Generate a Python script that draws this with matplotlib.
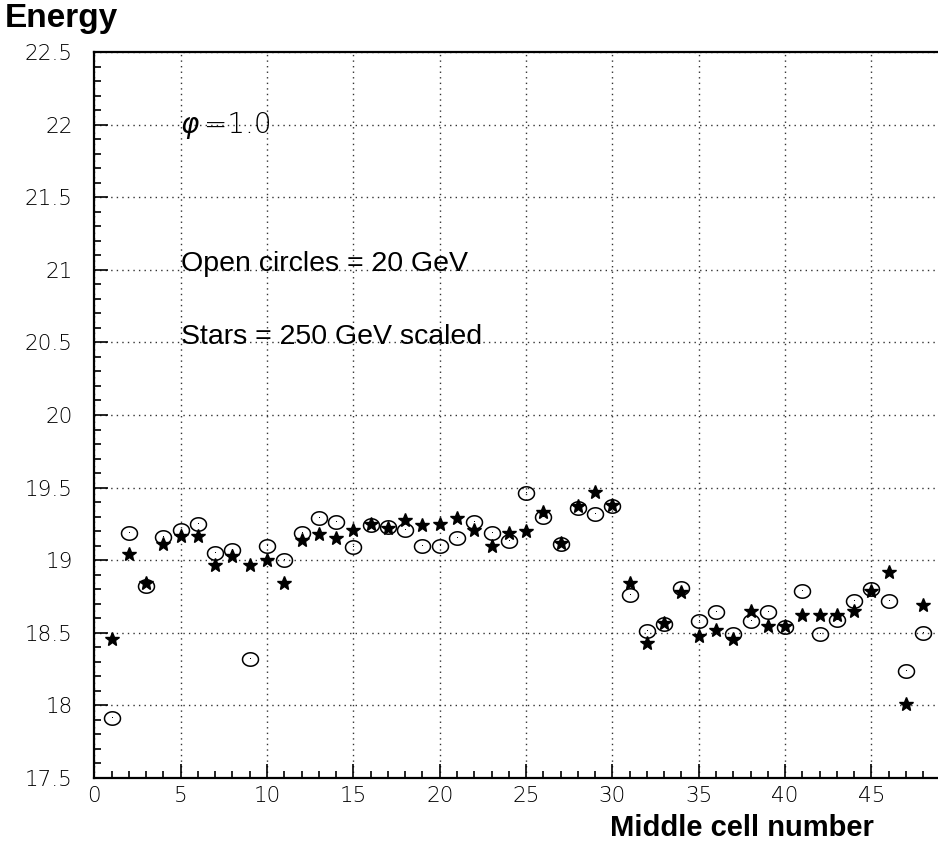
import numpy as np
import matplotlib
matplotlib.use('Agg')
from matplotlib import pyplot as plt
from matplotlib.path import Path
from matplotlib.ticker import MultipleLocator

# cell numbers and energies
cells = np.arange(1, 49)
circles = [17.91, 19.19, 18.82, 19.16, 19.21, 19.25, 19.05, 19.07, 18.32, 19.10,
           19.00, 19.19, 19.29, 19.26, 19.09, 19.24, 19.23, 19.21, 19.10, 19.10,
           19.15, 19.26, 19.19, 19.13, 19.46, 19.30, 19.11, 19.36, 19.32, 19.37,
           18.76, 18.51, 18.56, 18.81, 18.58, 18.64, 18.49, 18.58, 18.64, 18.54,
           18.79, 18.49, 18.59, 18.72, 18.80, 18.72, 18.24, 18.50]
stars = [18.46, 19.04, 18.84, 19.11, 19.17, 19.17, 18.97, 19.03, 18.97, 19.00,
         18.84, 19.14, 19.18, 19.15, 19.21, 19.25, 19.22, 19.28, 19.24, 19.25,
         19.29, 19.21, 19.10, 19.19, 19.20, 19.33, 19.12, 19.37, 19.47, 19.38,
         18.84, 18.43, 18.57, 18.78, 18.48, 18.52, 18.46, 18.65, 18.55, 18.55,
         18.62, 18.62, 18.62, 18.65, 18.79, 18.92, 18.01, 18.69]
yticks = np.arange(17.5, 22.6, 0.5)

W, H = 938, 842
fig = plt.figure(figsize=(W / 100, H / 100), dpi=100)
# the reference is cropped on the right, so the axes run past the figure edge
ax = fig.add_axes([94.3 / W, 64 / H, 863.5 / W, 726 / H])
ax.set_xlim(0, 50)
ax.set_ylim(17.5, 22.5)

# slightly wide open ellipse, like the original circles
t = np.linspace(0, 2 * np.pi, 60)
ellipse = Path(np.column_stack([np.cos(t), 0.84 * np.sin(t)]))

ax.plot(cells, circles, ls='none', marker=ellipse, ms=11.5, mfc='none',
        mec='black', mew=1.1)
ax.plot(cells, circles, ls='none', marker=',', color='black')
ax.plot(cells, stars, ls='none', marker='*', ms=10, color='black')

ax.set_xticks(np.arange(0, 50, 5))
ax.xaxis.set_minor_locator(MultipleLocator(1))
ax.yaxis.set_minor_locator(MultipleLocator(0.1))
ax.set_yticks(yticks)
ax.set_yticklabels([f'{v:g}' for v in yticks])
ax.grid(True, which='major', color='#333333', ls=(0, (1, 3)), lw=1)

ax.tick_params(which='both', direction='in', top=False, right=False, width=1.2)
ax.tick_params(which='major', length=10)
ax.tick_params(axis='x', which='major', pad=6)
ax.tick_params(axis='y', which='major', pad=15.5)
ax.tick_params(which='minor', length=4.7)
for lab in ax.get_xticklabels() + ax.get_yticklabels():
    lab.set_fontfamily('DejaVu Sans')
    lab.set_fontweight('light')
    lab.set_fontsize(15.5)
for side in ['left', 'top', 'bottom']:
    ax.spines[side].set_linewidth(1.6)

txt = dict(fontfamily='Liberation Sans', fontsize=20.5, color='black')
ax.text(5, 22.0, 'φ', va='center', ha='left', fontsize=20, style='italic',
        fontfamily='DejaVu Sans', fontweight='light')
ax.text(6.35, 22.0, '=1.0', va='center', ha='left', fontsize=20,
        fontfamily='DejaVu Sans', fontweight='light')
ax.text(5, 20.99, 'Open circles = 20 GeV', va='baseline', ha='left', **txt)
ax.text(5, 20.49, 'Stars = 250 GeV scaled', va='baseline', ha='left', **txt)

fig.text(5 / W, 1 - 19 / H, 'Energy', fontfamily='Liberation Sans',
         fontweight='bold', fontsize=24, va='center', ha='left')
fig.text(874 / W, 1 - 828 / H, 'Middle cell number', fontfamily='Liberation Sans',
         fontweight='bold', fontsize=21, va='center', ha='right')

fig.savefig('out.png', dpi=100)
